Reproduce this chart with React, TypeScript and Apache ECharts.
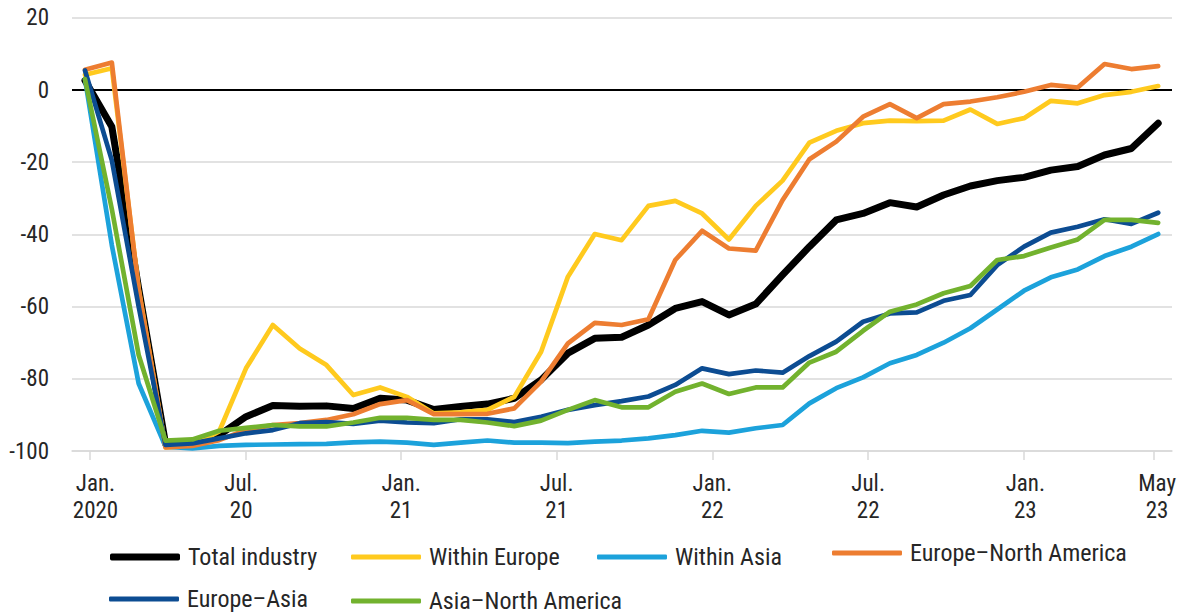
import React, { useEffect, useRef } from "react";
import * as echarts from "echarts";

// Monthly observations, Jan 2020 .. May 2023 (41 months), % change
const months = [
  "2020-01","2020-02","2020-03","2020-04","2020-05","2020-06","2020-07","2020-08","2020-09","2020-10","2020-11","2020-12",
  "2021-01","2021-02","2021-03","2021-04","2021-05","2021-06","2021-07","2021-08","2021-09","2021-10","2021-11","2021-12",
  "2022-01","2022-02","2022-03","2022-04","2022-05","2022-06","2022-07","2022-08","2022-09","2022-10","2022-11","2022-12",
  "2023-01","2023-02","2023-03","2023-04","2023-05",
];

const totalIndustry = [
  2.6, -10.2, -55, -97.9, -97.9, -95.6, -90.5, -87.4, -87.6, -87.5, -88.2, -85.4,
  -85.9, -88.5, -87.7, -87, -85.4, -80.3, -72.9, -68.8, -68.5, -65.1, -60.5, -58.6,
  -62.3, -59.3, -51.2, -43.4, -36, -34.2, -31.2, -32.4, -29.1, -26.6, -25.1, -24.2,
  -22.2, -21.2, -18, -16.2, -9.2,
];
const withinEurope = [
  4.2, 6.0, -55, -99, -98.5, -94.6, -77.1, -65.1, -71.6, -76.2, -84.5, -82.4,
  -85, -89.6, -89.3, -88.6, -85, -72.5, -51.7, -39.9, -41.6, -32.1, -30.7, -34.2,
  -41.4, -32.1, -25.1, -14.6, -11.3, -9.2, -8.5, -8.6, -8.5, -5.4, -9.4, -7.8,
  -3.0, -3.7, -1.4, -0.5, 1.1,
];
const withinAsia = [
  3, -43, -81.3, -98.8, -99.3, -98.6, -98.3, -98.2, -98.1, -98, -97.6, -97.4,
  -97.7, -98.3, -97.7, -97.1, -97.7, -97.7, -97.8, -97.4, -97.1, -96.5, -95.6, -94.4,
  -94.9, -93.7, -92.8, -86.8, -82.6, -79.6, -75.7, -73.4, -70, -66, -60.8, -55.6,
  -51.9, -49.7, -46, -43.4, -39.9,
];
const europeNorthAmerica = [
  5.6, 7.6, -55.4, -99, -98.6, -97, -94.2, -92.8, -92.3, -91.4, -89.8, -87,
  -85.9, -89.8, -89.8, -89.7, -88.2, -80.8, -70.2, -64.5, -65.1, -63.5, -47.1, -39,
  -43.9, -44.5, -30.5, -19.2, -14.3, -7.4, -3.9, -7.8, -3.9, -3.2, -2.0, -0.5,
  1.4, 0.7, 7.2, 5.8, 6.6,
];
const europeAsia = [
  5.4, -19.5, -60, -98.3, -97.9, -96.5, -95.1, -94.2, -92.3, -92, -92.5, -91.6,
  -92.1, -92.3, -91.2, -91.2, -92, -90.5, -88.6, -87.3, -86.2, -84.9, -81.7, -77.1,
  -78.7, -77.7, -78.3, -73.7, -69.7, -64.2, -61.9, -61.6, -58.4, -56.8, -48.5, -43.4,
  -39.5, -37.9, -35.8, -37.1, -34,
];
const asiaNorthAmerica = [
  3.0, -33, -73.4, -97.1, -96.8, -94.4, -93.6, -92.8, -93.2, -93.2, -92.1, -90.8,
  -90.8, -91.4, -91.4, -92.1, -93.1, -91.6, -88.6, -85.9, -87.9, -87.9, -83.6, -81.3,
  -84.2, -82.4, -82.4, -75.5, -72.5, -66.7, -61.4, -59.4, -56.3, -54.3, -47.1, -46,
  -43.6, -41.4, -36, -36, -36.8,
];

const seriesNames = [
  "Total industry",
  "Within Europe",
  "Within Asia",
  "Europe\u2013North America",
  "Europe\u2013Asia",
  "Asia\u2013North America",
];

const tickLabels = ["Jan.\n2020", "Jul.\n20", "Jan.\n21", "Jul.\n21", "Jan.\n22", "Jul.\n22", "Jan.\n23", "May\n23"];

const FONT = "'Liberation Sans Narrow', 'Roboto Condensed', 'DejaVu Sans Condensed', sans-serif";
const TEXT = "#262626";

export default function App() {
  const ref = useRef<HTMLDivElement>(null);

  useEffect(() => {
    if (!ref.current) return;
    const chart = echarts.init(ref.current, null, { renderer: "svg" });

    const values = [totalIndustry, withinEurope, withinAsia, europeNorthAmerica, europeAsia, asiaNorthAmerica];
    const colors = ["#000000", "#FFCA1E", "#1CA2DB", "#ED7D31", "#0C4C92", "#72B22E"];
    const widths = [7, 4.7, 4.7, 4.7, 4.7, 4.7];

    const tickPos = [0.19, 5.99, 11.78, 17.58, 23.38, 29.19, 35.0, 39.82];
    const labelPos = [0.39, 5.82, 11.78, 17.58, 23.38, 29.19, 35.05, 39.96];

    const legendPlaces = [
      { left: 110, top: 544, h: 7 },
      { left: 351, top: 544, h: 5 },
      { left: 597, top: 544, h: 5 },
      { left: 832, top: 540, h: 5 },
      { left: 109, top: 586, h: 5 },
      { left: 351, top: 588, h: 5 },
    ];

    const option: any = {
      animation: false,
      grid: { left: 72, right: 13, top: 17.8, bottom: 163, containLabel: false },
      legend: seriesNames.map((name, i) => ({
        data: [name],
        left: legendPlaces[i].left,
        top: legendPlaces[i].top,
        orient: "horizontal",
        icon: "roundRect",
        itemWidth: 70,
        itemHeight: legendPlaces[i].h,
        selectedMode: false,
        padding: 0,
        itemStyle: { color: colors[i], borderWidth: 0 },
        textStyle: { fontSize: 24, lineHeight: 26, fontFamily: FONT, color: TEXT, padding: [0, 0, 0, 3] },
      })),
      xAxis: {
        type: "value",
        min: -0.485,
        max: 40.515,
        axisLine: { show: true, onZero: false, lineStyle: { color: "#d9d9d9", width: 1.5 } },
        axisTick: { show: true, customValues: tickPos, length: 9, lineStyle: { color: "#d9d9d9", width: 1.5 } },
        axisLabel: {
          customValues: labelPos,
          formatter: (v: number) => {
            const i = labelPos.indexOf(v);
            return i >= 0 ? tickLabels[i] : "";
          },
          fontSize: 23,
          lineHeight: 27,
          margin: 19,
          color: TEXT,
          fontFamily: FONT,
        },
        splitLine: { show: false },
      },
      yAxis: {
        type: "value",
        min: -100,
        max: 20,
        interval: 20,
        axisLine: { show: false },
        axisTick: { show: false },
        axisLabel: { fontSize: 23, margin: 23, color: TEXT, fontFamily: FONT },
        splitLine: { lineStyle: { color: "#d9d9d9", width: 1.5 } },
      },
      series: seriesNames.map((name, i) => ({
        name,
        type: "line",
        data: values[i].map((v, k) => [k, v]),
        showSymbol: false,
        symbol: "none",
        color: colors[i],
        itemStyle: { color: colors[i] },
        lineStyle: { color: colors[i], width: widths[i], cap: "round", join: "round" },
        z: 2 + i,
        ...(i === 0
          ? {
              markLine: {
                silent: true,
                symbol: "none",
                label: { show: false },
                lineStyle: { color: "#000", width: 2.2, type: "solid" },
                data: [{ yAxis: 0 }],
                z: 1,
              },
            }
          : {}),
      })),
    };

    chart.setOption(option);
    return () => chart.dispose();
  }, []);

  return (
    <div
      ref={ref}
      style={{ position: "fixed", left: 0, top: 0, width: 1185, height: 614, background: "#fff" }}
    />
  );
}
